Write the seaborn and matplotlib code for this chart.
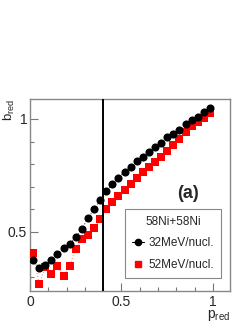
import matplotlib
matplotlib.use('Agg')
import matplotlib.pyplot as plt
from matplotlib.lines import Line2D
from matplotlib.ticker import MultipleLocator, FuncFormatter
import pandas as pd
import seaborn as sns

# reduced impact parameter vs reduced multiplicity
p_red = [(i + 0.5) / 30 for i in range(30)]

b_32 = [0.376, 0.342, 0.353, 0.376, 0.403, 0.429, 0.446, 0.479, 0.513, 0.561,
        0.600, 0.642, 0.680, 0.712, 0.740, 0.765, 0.789, 0.813, 0.833, 0.855,
        0.875, 0.893, 0.918, 0.934, 0.953, 0.977, 0.994, 1.009, 1.030, 1.046]
b_52 = [0.408, 0.269, 0.344, 0.316, 0.350, 0.304, 0.350, 0.426, 0.468, 0.488,
        0.516, 0.559, 0.600, 0.634, 0.659, 0.686, 0.711, 0.738, 0.764, 0.789,
        0.811, 0.833, 0.856, 0.885, 0.912, 0.941, 0.970, 0.985, 1.003, 1.025]

labels = ['32MeV/nucl.', '52MeV/nucl.']
system = '58Ni+58Ni'
p_cut = 0.4

df32 = pd.DataFrame({'p': p_red, 'b': b_32})
df52 = pd.DataFrame({'p': p_red, 'b': b_52})

sns.set_theme(style='white')
plt.rcParams['font.family'] = ['Liberation Sans', 'DejaVu Sans']
plt.rcParams['mathtext.fontset'] = 'custom'
plt.rcParams['mathtext.rm'] = 'Liberation Sans'

fig = plt.figure(figsize=(2.49, 3.23), dpi=100)
ax = fig.add_axes([0.1205, 0.0991, 0.8032, 0.5944])

# dotted connecting lines
sns.lineplot(data=df52, x='p', y='b', ax=ax, color='#ff9090', lw=0.8, ls=':', legend=False)
sns.lineplot(data=df32, x='p', y='b', ax=ax, color='#555555', lw=0.8, ls=':', legend=False)

sns.scatterplot(data=df52, x='p', y='b', ax=ax, color='red', marker='s', s=30, linewidth=0, zorder=3)
sns.scatterplot(data=df32, x='p', y='b', ax=ax, color='black', marker='o', s=34, linewidth=0, zorder=4)

ax.axvline(p_cut, color='black', lw=1.4, zorder=5)

ax.set_xlim(0, 1.093)
ax.set_ylim(0.239, 1.088)
ax.xaxis.set_major_locator(MultipleLocator(0.5))
ax.xaxis.set_minor_locator(MultipleLocator(0.1))
ax.yaxis.set_major_locator(MultipleLocator(0.5))
ax.yaxis.set_minor_locator(MultipleLocator(0.1))
ax.xaxis.set_major_formatter(FuncFormatter(lambda v, _: f'{v:g}'))
ax.yaxis.set_major_formatter(FuncFormatter(lambda v, _: f'{v:g}'))
ax.tick_params(which='both', direction='in', color='#777777', labelsize=10, pad=3,
               bottom=True, left=True, top=False, right=False)
ax.tick_params(which='major', length=6, width=0.8)
ax.tick_params(which='minor', length=3, width=0.8)
ax.tick_params(axis='y', pad=2)
for sp in ax.spines.values():
    sp.set_color('#888888')
    sp.set_linewidth(1.0)

ax.set_xlabel(r'p$_{\mathrm{red}}$', fontsize=10, loc='right')
ax.xaxis.set_label_coords(1.0, -0.09)
ax.set_ylabel(r'b$_{\mathrm{red}}$', fontsize=9.5, loc='top')
ax.yaxis.set_label_coords(-0.065, 1.0)

ax.text(0.79, 0.51, '(a)', transform=ax.transAxes, fontsize=13, fontweight='bold',
        ha='center', va='center')

handles = [Line2D([], [], color='black', marker='o', ms=4.5, lw=0.8, ls='-'),
           Line2D([], [], color='red', marker='s', ms=4.5, lw=0)]
leg = ax.legend(handles, labels, title=system, loc='lower right',
                bbox_to_anchor=(0.955, 0.068), fontsize=8.5, title_fontsize=8.5,
                frameon=True, fancybox=False, framealpha=1, edgecolor='#888888',
                handlelength=1.0, handletextpad=0.4, labelspacing=0.8,
                borderpad=0.6, borderaxespad=0)
leg.get_frame().set_linewidth(0.8)

fig.savefig('out.png', dpi=100)
